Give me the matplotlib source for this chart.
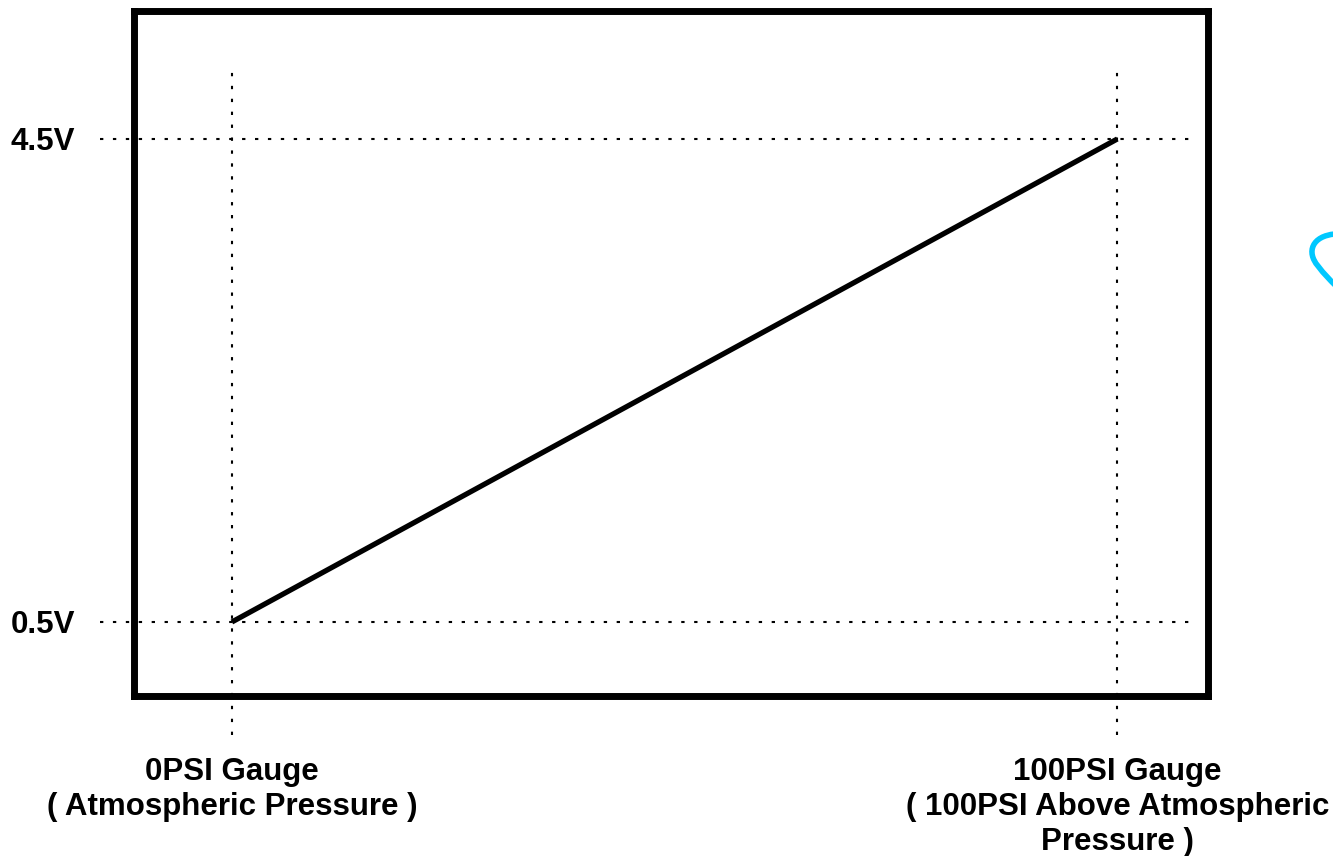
import matplotlib
matplotlib.use("Agg")
import matplotlib.pyplot as plt
from matplotlib.path import Path
from matplotlib.patches import PathPatch

# Pressure sensor output: linear 0.5V..4.5V over 0..100 PSI gauge
pressure = [0, 100]          # PSI gauge
voltage = [0.5, 4.5]         # V
y_ticks = [0.5, 4.5]
y_labels = ["0.5V", "4.5V"]
x_labels = ["0PSI Gauge\n( Atmospheric Pressure )",
            "100PSI Gauge\n( 100PSI Above Atmospheric\nPressure )"]

plt.rcParams['font.family'] = ['Liberation Sans', 'DejaVu Sans']

fig = plt.figure(figsize=(13.33, 8.56), dpi=100)
ax = fig.add_axes([0.1009, 0.1869, 0.8057, 0.7997])
ax.set_xlim(-11.0, 110.3)
ax.set_ylim(-0.113, 5.556)

for s in ax.spines.values():
    s.set_linewidth(5.0)
    s.set_color('black')

dot = (0, (1.6, 4.6))
# guide lines, reaching out past the box
for x in pressure:
    ax.plot([x, x], [-0.436, 5.088], color='black', lw=1.5,
            linestyle=dot, clip_on=False, zorder=1)
for v in voltage:
    ax.plot([-14.9, 108.2], [v, v], color='black', lw=1.5,
            linestyle=dot, clip_on=False, zorder=1)

ax.plot(pressure, voltage, color='black', lw=3.8, solid_capstyle='butt', zorder=3)

ax.set_yticks(y_ticks)
ax.set_yticklabels(y_labels, fontsize=22.5, fontweight='bold')
ax.set_xticks(pressure)
ax.set_xticklabels(x_labels, fontsize=22.5, fontweight='bold', linespacing=1.22,
                   va='top')
ax.tick_params(axis='y', length=0, pad=43)
ax.tick_params(axis='x', length=0, pad=44)

# stray cyan stroke at the right edge
W, H = 1333.0, 856.0
pts = [(1335, 234), (1312, 236), (1306, 252), (1318, 266),
       (1324, 274), (1330, 280), (1335, 285)]
verts = [(px / W, 1 - py / H) for px, py in pts]
codes = [Path.MOVETO] + [Path.CURVE4] * 6
fig.patches.append(PathPatch(Path(verts, codes), transform=fig.transFigure,
                             facecolor='none', edgecolor='#00c8ff', lw=4.0))

fig.savefig("out.png", dpi=100)
